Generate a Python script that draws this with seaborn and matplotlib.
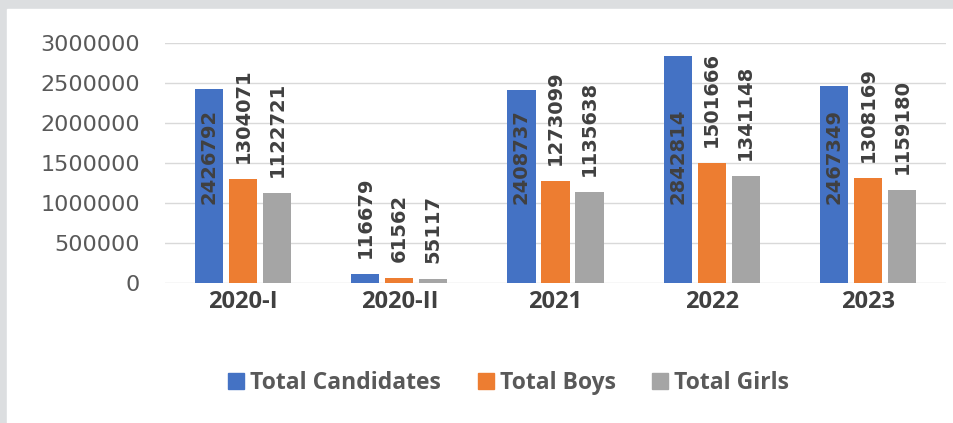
from matplotlib import pyplot as plt
from matplotlib.patches import Rectangle
from matplotlib.lines import Line2D
import seaborn as sns
import pandas as pd
import numpy as np

years = ['2020-I', '2020-II', '2021', '2022', '2023']
total_candidates = [2426792, 116679, 2408737, 2842814, 2467349]
total_boys = [1304071, 61562, 1273099, 1501666, 1308169]
total_girls = [1122721, 55117, 1135638, 1341148, 1159180]
series_names = ['Total Candidates', 'Total Boys', 'Total Girls']
colors = ['#4472C4', '#ED7D31', '#A5A5A5']

df = pd.DataFrame({
    'year': years * 3,
    'value': total_candidates + total_boys + total_girls,
    'series': np.repeat(series_names, len(years)),
})

fig = plt.figure(figsize=(9.54, 4.23), dpi=100, facecolor='#dcdee0')
# white chart area inside the grey frame
fig.patches.append(Rectangle((7 / 954, 0), 1, (423 - 9) / 423,
                             transform=fig.transFigure, color='white', zorder=-1))

ax = fig.add_axes([165 / 954, 140 / 423, (946 - 165) / 954, 240 / 423])
sns.barplot(data=df, x='year', y='value', hue='series', palette=colors,
            saturation=1, width=0.654, gap=0.17, ax=ax, legend=False, zorder=2)

ax.set_ylim(0, 3000000)
ax.set_yticks(np.arange(0, 3000001, 500000))
ax.yaxis.set_major_formatter(plt.FuncFormatter(lambda v, p: f'{v:.0f}'))
ax.yaxis.grid(True, color='#d9d9d9', lw=1, zorder=0)
ax.set_axisbelow(True)
for s in ax.spines.values():
    s.set_visible(False)
ax.tick_params(axis='y', length=0, pad=18, labelsize=16, labelcolor='#595959')
ax.tick_params(axis='x', length=0, pad=5, labelcolor='#404040')
for lbl in ax.get_xticklabels():
    lbl.set_fontfamily('Open Sans')
    lbl.set_fontweight('bold')
    lbl.set_fontsize(17)
ax.set_xlabel('')
ax.set_ylabel('')

# value labels (rotated); big total bars carry theirs inside
for i, cont in enumerate(ax.containers):
    for bar in cont:
        v = bar.get_height()
        x = bar.get_x() + bar.get_width() / 2
        if i == 0 and v > 1000000:
            ax.text(x, 985000, f'{v:.0f}', rotation=90, ha='center', va='bottom',
                    fontsize=14, fontweight='bold', color='#404040', zorder=3)
        else:
            ax.annotate(f'{v:.0f}', (x, v), xytext=(0, 11.5), textcoords='offset points',
                        rotation=90, ha='center', va='bottom',
                        fontsize=14, fontweight='bold', color='#404040', zorder=3)

handles = [Line2D([], [], marker='s', ls='', color=c, markersize=11) for c in colors]
leg = fig.legend(handles, series_names, loc='center', bbox_to_anchor=(507 / 954, 40 / 423),
                 ncol=3, frameon=False, handletextpad=0.1, columnspacing=1.45,
                 handlelength=1.0, prop={'family': 'Open Sans', 'weight': 'bold', 'size': 16.5})
for t in leg.get_texts():
    t.set_color('#595959')

fig.savefig('out.png', dpi=100, facecolor=fig.get_facecolor())
